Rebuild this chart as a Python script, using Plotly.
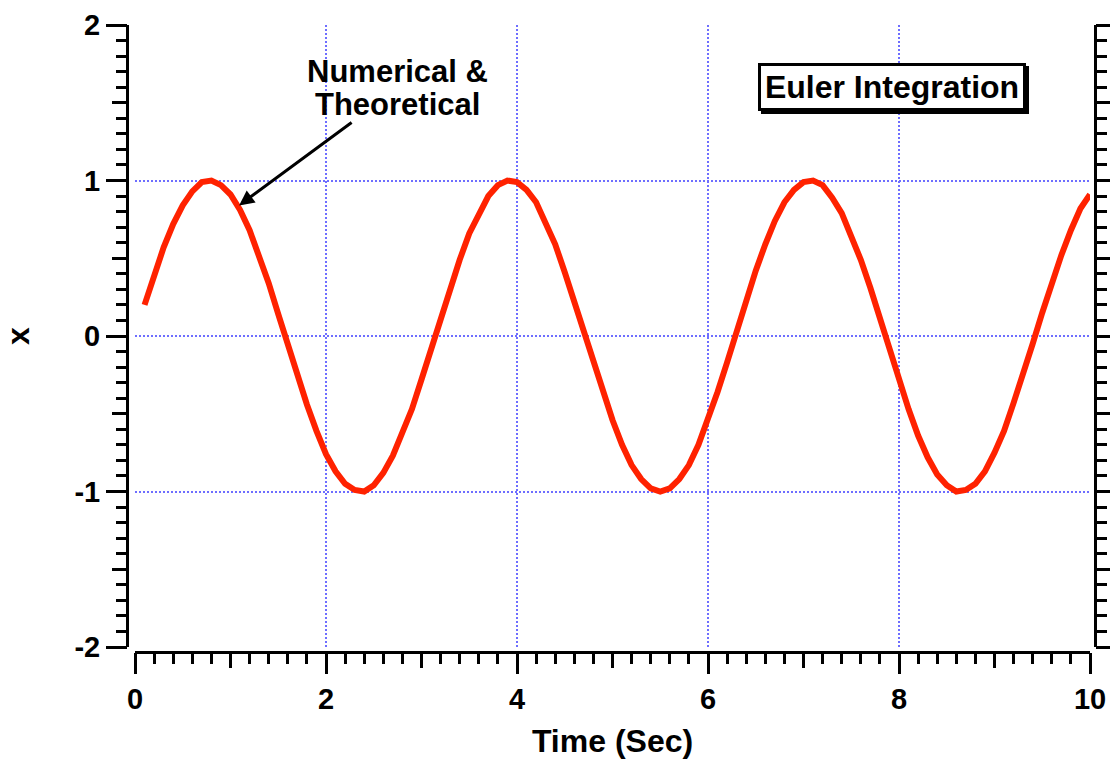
import plotly.graph_objects as go

# ---- data ----
time_s = [0.1, 0.2, 0.3, 0.4, 0.5, 0.6, 0.7, 0.8, 0.9, 1.0,
          1.1, 1.2, 1.3, 1.4, 1.5, 1.6, 1.7, 1.8, 1.9, 2.0,
          2.1, 2.2, 2.3, 2.4, 2.5, 2.6, 2.7, 2.8, 2.9, 3.0,
          3.1, 3.2, 3.3, 3.4, 3.5, 3.6, 3.7, 3.8, 3.9, 4.0,
          4.1, 4.2, 4.3, 4.4, 4.5, 4.6, 4.7, 4.8, 4.9, 5.0,
          5.1, 5.2, 5.3, 5.4, 5.5, 5.6, 5.7, 5.8, 5.9, 6.0,
          6.1, 6.2, 6.3, 6.4, 6.5, 6.6, 6.7, 6.8, 6.9, 7.0,
          7.1, 7.2, 7.3, 7.4, 7.5, 7.6, 7.7, 7.8, 7.9, 8.0,
          8.1, 8.2, 8.3, 8.4, 8.5, 8.6, 8.7, 8.8, 8.9, 9.0,
          9.1, 9.2, 9.3, 9.4, 9.5, 9.6, 9.7, 9.8, 9.9, 10.0]

x_values = [0.20, 0.39, 0.57, 0.72, 0.84, 0.93, 0.99, 1.00, 0.97, 0.91,
            0.81, 0.68, 0.52, 0.34, 0.14, -0.06, -0.26, -0.44, -0.61, -0.76,
            -0.87, -0.95, -0.99, -1.00, -0.96, -0.88, -0.77, -0.63, -0.47, -0.28,
            -0.08, 0.12, 0.31, 0.49, 0.66, 0.79, 0.90, 0.97, 1.00, 0.99,
            0.94, 0.86, 0.73, 0.59, 0.41, 0.22, 0.03, -0.17, -0.37, -0.54,
            -0.70, -0.83, -0.92, -0.98, -1.00, -0.98, -0.92, -0.83, -0.70, -0.54,
            -0.36, -0.17, 0.03, 0.23, 0.42, 0.59, 0.74, 0.86, 0.94, 0.99,
            1.00, 0.97, 0.89, 0.79, 0.65, 0.49, 0.31, 0.11, -0.09, -0.29,
            -0.47, -0.64, -0.78, -0.89, -0.96, -1.00, -0.99, -0.95, -0.87, -0.75,
            -0.61, -0.43, -0.25, -0.05, 0.15, 0.34, 0.52, 0.68, 0.82, 0.91]

x_range = [0, 10]
y_range = [-2, 2]
y_tick_vals = [-2, -1, 0, 1, 2]
y_tick_text = ["-2", "-1", "0", "1", "2"]
x_title = "Time (Sec)"
y_title = "x"
label_1 = "Numerical &"
label_2 = "Theoretical"
box_label = "Euler Integration"

# ---- layout geometry (body margin removed by post_script) ----
W, H = 1110, 759


def px(x_page):
    return x_page / W


def py(y_page):
    return (H - y_page) / H


XD = [px(135), px(1090)]
YD = [py(647), py(25)]
X_AXIS_POS = py(652)
Y_AXIS_POS = px(127)
Y_RIGHT_POS = px(1095)

FONT = "Liberation Sans, Arial, Helvetica, sans-serif"
GRID = dict(showgrid=True, gridcolor="#6e6eff", gridwidth=2, griddash="2px,2px")
tickfont = dict(family=FONT, size=29, color="black", weight="bold")
titlefont = dict(family=FONT, size=32, color="black", weight="bold")

fig = go.Figure()
fig.add_trace(go.Scatter(x=time_s, y=x_values, mode="lines",
                         line=dict(color="#ff2200", width=6),
                         showlegend=False, hoverinfo="skip"))
# empty traces bind the decorative axes
for xa, ya in [("x2", "y2"), ("x3", "y3"), ("x", "y4"), ("x", "y5")]:
    fig.add_trace(go.Scatter(x=[None], y=[None], xaxis=xa, yaxis=ya,
                             showlegend=False, hoverinfo="skip"))

common_tick = dict(ticks="outside", tickwidth=3, tickcolor="black",
                   showgrid=False, zeroline=False, automargin=False)

fig.update_layout(
    width=W, height=H,
    margin=dict(l=0, r=0, t=0, b=0, autoexpand=False),
    paper_bgcolor="white", plot_bgcolor="white",
    xaxis=dict(domain=XD, range=x_range, dtick=2, tick0=0, showticklabels=False,
               ticks="", zeroline=False, showline=False, automargin=False, **GRID),
    yaxis=dict(domain=YD, range=y_range, dtick=1, tick0=0, showticklabels=False,
               ticks="", zeroline=False, showline=False, automargin=False, **GRID),
    xaxis2=dict(overlaying="x", anchor="free", position=X_AXIS_POS, side="bottom",
                domain=XD, range=x_range, dtick=2, tick0=0, ticklen=20,
                showline=True, linewidth=3, linecolor="black",
                tickfont=tickfont,
                title=dict(text=x_title, font=titlefont),
                minor=dict(dtick=0.2, tick0=0, ticklen=10, tickwidth=3,
                           tickcolor="black", ticks="outside", showgrid=False),
                **common_tick),
    xaxis3=dict(overlaying="x", anchor="free", position=X_AXIS_POS, side="bottom",
                domain=XD, range=x_range, dtick=1, tick0=0, ticklen=15,
                showticklabels=False, showline=False, **common_tick),
    yaxis2=dict(overlaying="y", anchor="free", position=Y_AXIS_POS, side="left",
                domain=YD, range=y_range, tickmode="array", tickvals=y_tick_vals,
                ticktext=y_tick_text, ticklen=20,
                showline=True, linewidth=3, linecolor="black",
                tickfont=tickfont,
                title=dict(text=y_title, font=titlefont, standoff=56),
                minor=dict(dtick=0.1, tick0=0, ticklen=10, tickwidth=3,
                           tickcolor="black", ticks="outside", showgrid=False),
                **common_tick),
    yaxis3=dict(overlaying="y", anchor="free", position=Y_AXIS_POS, side="left",
                domain=YD, range=y_range, dtick=0.5, tick0=0, ticklen=15,
                showticklabels=False, showline=False, **common_tick),
    yaxis4=dict(overlaying="y", anchor="free", position=Y_RIGHT_POS, side="right",
                domain=YD, range=y_range, dtick=1, tick0=0, ticklen=20,
                showline=True, linewidth=3, linecolor="black", showticklabels=False,
                minor=dict(dtick=0.1, tick0=0, ticklen=10, tickwidth=3,
                           tickcolor="black", ticks="outside", showgrid=False),
                **common_tick),
    yaxis5=dict(overlaying="y", anchor="free", position=Y_RIGHT_POS, side="right",
                domain=YD, range=y_range, dtick=0.5, tick0=0, ticklen=15,
                showticklabels=False, showline=False, **common_tick),
)

annfont = dict(family=FONT, size=31, color="black", weight="bold")
fig.add_annotation(x=1.09, y=0.84, xref="x", yref="y", text="", showarrow=True,
                   ax=114, ay=-84, arrowhead=2, arrowsize=1, arrowwidth=3,
                   arrowcolor="black")
fig.add_annotation(x=2.75, y=1.70, xref="x", yref="y", text=label_1,
                   showarrow=False, font=annfont)
fig.add_annotation(x=2.75, y=1.49, xref="x", yref="y", text=label_2,
                   showarrow=False, font=annfont)
# box shadow (empty, same size), then the labelled box
boxfont = dict(family=FONT, size=32, color="black", weight="bold")
BOX_W, BOX_H = 256, 36
fig.add_annotation(x=7.93, y=1.60, xref="x", yref="y", text=" ",
                   width=BOX_W, height=BOX_H,
                   showarrow=False, font=boxfont,
                   bgcolor="black", bordercolor="black", borderwidth=3,
                   borderpad=3, xshift=3, yshift=-3)
fig.add_annotation(x=7.93, y=1.60, xref="x", yref="y", text=box_label,
                   width=BOX_W, height=BOX_H,
                   showarrow=False, font=boxfont,
                   bgcolor="white", bordercolor="black", borderwidth=3,
                   borderpad=3)

fig.write_html(
    "out.html",
    config={"displayModeBar": False},
    post_script="document.body.style.margin='0';document.body.style.overflow='hidden';",
)
